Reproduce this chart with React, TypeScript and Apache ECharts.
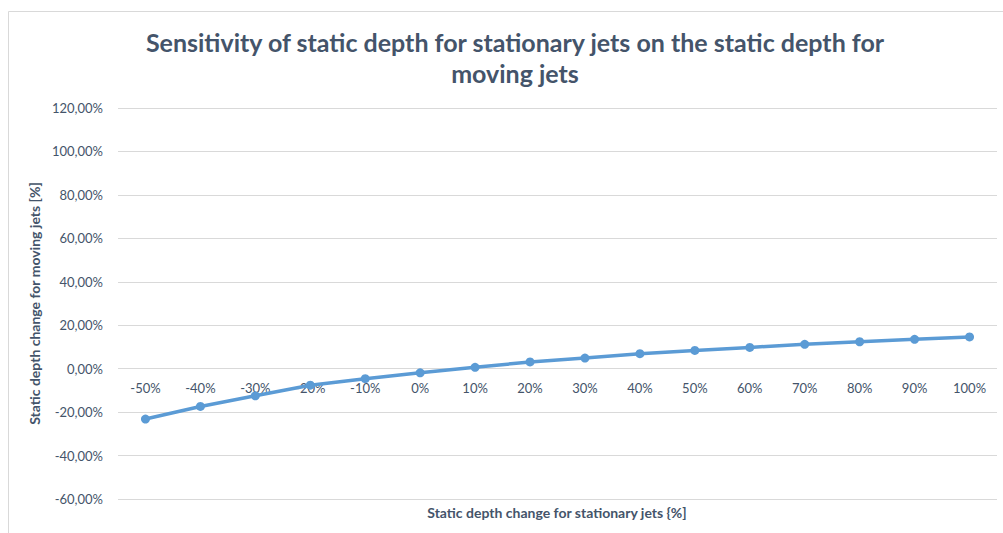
import React, { useEffect, useRef } from "react";
import * as echarts from "echarts";

const categories = ["-50%", "-40%", "-30%", "-20%", "-10%", "0%", "10%", "20%", "30%", "40%", "50%", "60%", "70%", "80%", "90%", "100%"];
const depthChange = [-23.2, -17.4, -12.5, -7.6, -4.6, -1.9, 0.6, 3.1, 4.9, 6.9, 8.4, 9.8, 11.2, 12.4, 13.5, 14.6];

const titleLines = ["Sensitivity of static depth for stationary jets on the static depth for", "moving jets"];
const xName = "Static depth change for stationary jets {%]";
const yName = "Static depth change for moving jets [%]";

const Y_MIN = -60;
const Y_MAX = 120;
const GRID_TOP = 108;
const GRID_BOTTOM = 34;
const CHART_H = 533;

const FONT = "Lato, 'Open Sans', sans-serif";
const TEXT = "#44546a";

export default function App() {
  const ref = useRef<HTMLDivElement>(null);

  useEffect(() => {
    const chart = echarts.init(ref.current!, undefined, { renderer: "svg" });
    // lift the category axis from the bottom of the grid up to the 0 line
    const gridH = CHART_H - GRID_TOP - GRID_BOTTOM;
    const zeroLift = (gridH * (0 - Y_MIN)) / (Y_MAX - Y_MIN);
    chart.setOption({
      animation: false,
      backgroundColor: "#ffffff",
      textStyle: { fontFamily: FONT },
      grid: { left: 118, right: 6, top: GRID_TOP, bottom: GRID_BOTTOM },
      xAxis: {
        type: "category",
        data: categories,
        boundaryGap: true,
        offset: -zeroLift,
        axisLine: { show: false, onZero: false },
        axisTick: { show: false },
        axisLabel: { color: TEXT, fontSize: 13, margin: 13, fontFamily: FONT },
        splitLine: { show: false },
      },
      yAxis: {
        type: "value",
        min: Y_MIN,
        max: Y_MAX,
        interval: 20,
        axisLine: { show: false },
        axisTick: { show: false },
        axisLabel: {
          color: TEXT,
          fontSize: 13,
          margin: 15,
          fontFamily: FONT,
          formatter: (v: number) => v.toFixed(2).replace(".", ",") + "%",
        },
        splitLine: { lineStyle: { color: "#d9d9d9", width: 1 } },
        name: yName,
        nameLocation: "middle",
        nameGap: 73,
        nameTextStyle: { color: TEXT, fontSize: 14, fontWeight: "bold", fontFamily: FONT },
      },
      series: [
        {
          type: "line",
          data: depthChange,
          symbol: "circle",
          symbolSize: 9,
          lineStyle: { color: "#5b9bd5", width: 3.5 },
          itemStyle: { color: "#5b9bd5" },
        },
      ],
      graphic: [
        {
          type: "rect",
          shape: { x: 8.5, y: 11.5, width: 1010, height: 600 },
          style: { fill: "none", stroke: "#d9d9d9", lineWidth: 1 },
          silent: true,
        },
        {
          type: "text",
          x: 515,
          y: 42,
          style: {
            text: titleLines[0],
            font: `bold 25px ${FONT}`,
            fill: TEXT,
            align: "center",
            verticalAlign: "middle",
          },
        },
        {
          type: "text",
          x: 515,
          y: 73,
          style: {
            text: titleLines[1],
            font: `bold 25px ${FONT}`,
            fill: TEXT,
            align: "center",
            verticalAlign: "middle",
          },
        },
        {
          type: "text",
          x: 557,
          y: 512,
          style: {
            text: xName,
            font: `bold 14px ${FONT}`,
            fill: TEXT,
            align: "center",
            verticalAlign: "middle",
          },
        },
      ],
    });
    return () => chart.dispose();
  }, []);

  return (
    <div
      ref={ref}
      style={{ position: "absolute", left: 0, top: 0, width: 1003, height: 533 }}
    />
  );
}
